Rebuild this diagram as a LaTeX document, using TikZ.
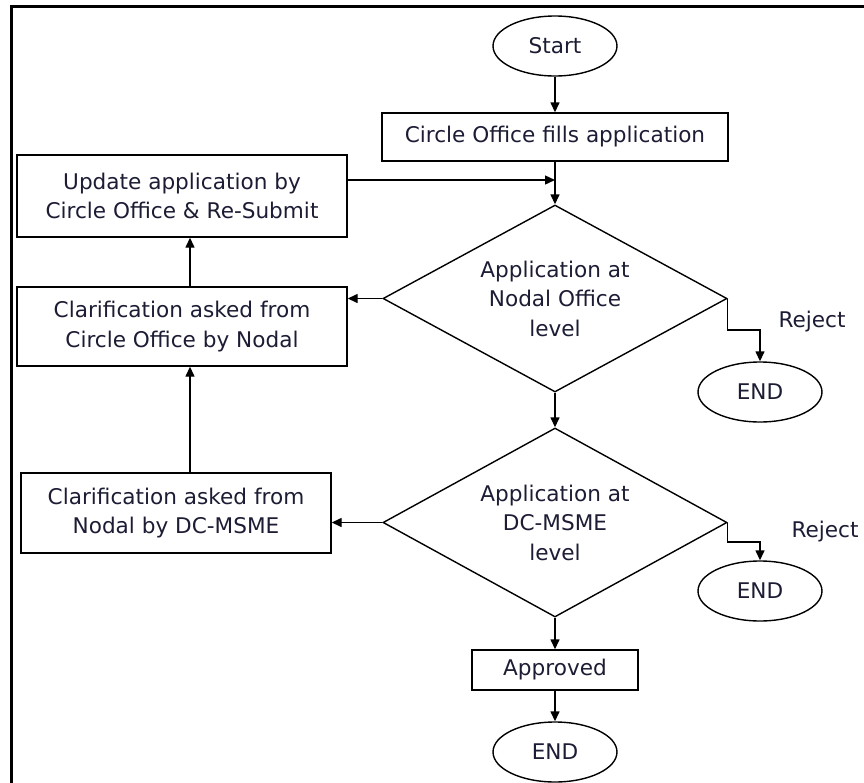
\documentclass[tikz,border=0pt]{standalone}
\usepackage{fontspec}
\setmainfont{DejaVu Sans}
\usetikzlibrary{shapes.geometric,arrows.meta,calc}
\definecolor{inkblue}{RGB}{28,28,52}

\begin{document}
\begin{tikzpicture}[x=0.5pt, y=-0.5pt,
    font=\fontsize{10.8pt}{14.75pt}\selectfont,
    every node/.style={text=inkblue},
    terminal/.style={draw, ellipse, line width=0.7pt, inner sep=0pt, minimum width=62pt, minimum height=30pt},
    process/.style={draw, rectangle, line width=0.7pt, inner sep=0pt, align=center},
    decision/.style={draw, diamond, aspect=1.84, line width=0.7pt, inner sep=0pt, align=center, minimum width=172pt, minimum height=93.5pt},
    flow/.style={-{Triangle[length=5pt,width=4.5pt]}, line width=0.7pt}]
  \useasboundingbox (0,0) rectangle (864,783);
  % frame
  \draw [line width=1.5pt] (11,783) -- (11,6) -- (864,6);
  % Nodes
  \node [terminal] (start) at (555,46) {Start};
  \node [process, minimum width=173pt, minimum height=24pt] (fill) at (555,137) {Circle Office fills application};
  \node [process, minimum width=165pt, minimum height=41pt] (upd) at (182,196) {Update application by\\Circle Office \& Re-Submit};
  \node [decision] (nodal) at (555,298.5) {Application at\\Nodal Office\\level};
  \node [process, minimum width=165pt, minimum height=39.5pt] (clar1) at (182,326.5) {Clarification asked from\\Circle Office by Nodal};
  \node [terminal] (end1) at (760,392) {END};
  \node (rej1) at (812,322) {Reject};
  \node [decision, minimum height=94.5pt] (dcmsme) at (555,522.5) {Application at\\DC-MSME\\level};
  \node [process, minimum width=155pt, minimum height=40pt] (clar2) at (176,513) {Clarification asked from\\Nodal by DC-MSME};
  \node [terminal] (end2) at (760,591) {END};
  \node (rej2) at (825,532) {Reject};
  \node [process, minimum width=83pt, minimum height=20pt] (appr) at (555,670) {Approved};
  \node [terminal] (end3) at (555,752) {END};
  % helper points
  \coordinate (j1) at (555,180);
  \coordinate (v1) at (190,0);
  \coordinate (r1) at (760,330);
  \coordinate (r2) at (760,542);
  % Connectors
  \draw [flow] (start) -- (fill);
  \draw [flow] (fill) -- (nodal);
  \draw [flow] (upd.east |- j1) -- (j1);
  \draw [flow] (nodal) -- (dcmsme);
  \draw [flow] (nodal.west) -- (nodal.west -| clar1.east);
  \draw [flow] (clar1.north -| v1) -- (upd.south -| v1);
  \draw [flow] (clar2.north -| v1) -- (clar1.south -| v1);
  \draw [flow] (dcmsme.west) -- (dcmsme.west -| clar2.east);
  \draw [flow] (nodal.east) |- (r1) -- (end1);
  \draw [flow] (dcmsme.east) |- (r2) -- (end2);
  \draw [flow] (dcmsme) -- (appr);
  \draw [flow] (appr) -- (end3);
\end{tikzpicture}
\end{document}
